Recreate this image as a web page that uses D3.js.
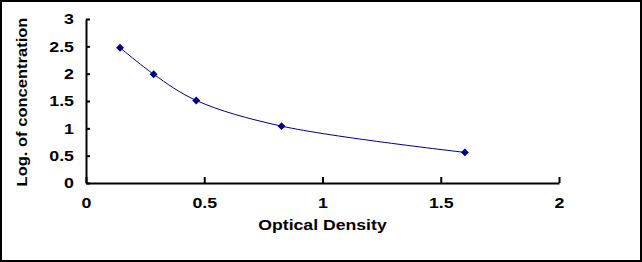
<!DOCTYPE html>
<html>
<head>
<meta charset="utf-8">
<script src="https://cdn.jsdelivr.net/npm/d3@7"></script>
<style>
  body { margin: 0; background: #fff; }
  svg text { font-family: 'Liberation Sans', Arial, sans-serif; font-weight: bold; fill: #000; }
</style>
</head>
<body>
<div id="chart"></div>
<script>
// data
const opticalDensity = [0.144, 0.286, 0.466, 0.827, 1.602];
const logConcentration = [2.475, 1.99, 1.51, 1.04, 0.56];
const xTicks = [0, 0.5, 1, 1.5, 2];
const yTicks = [0, 0.5, 1, 1.5, 2, 2.5, 3];

const W = 642, H = 262;
const margin = { top: 19, right: 83, bottom: 79, left: 86 };
const width = W - margin.left - margin.right;
const height = H - margin.top - margin.bottom;

// the original text renders wider than Liberation Sans, so stretch it
function stretch(sel, k) {
  sel.each(function () {
    const len = this.getComputedTextLength();
    d3.select(this)
      .attr('textLength', len * k)
      .attr('lengthAdjust', 'spacingAndGlyphs');
  });
}

const svg = d3.select('#chart').append('svg')
  .attr('width', W)
  .attr('height', H);

// outer frame
svg.append('rect')
  .attr('x', 1).attr('y', 1)
  .attr('width', W - 2).attr('height', H - 2)
  .attr('fill', '#fff')
  .attr('stroke', '#000')
  .attr('stroke-width', 2);

const chart = svg.append('g')
  .attr('transform', `translate(${margin.left},${margin.top})`);

const x = d3.scaleLinear().domain([0, 2]).range([0, width]);
const y = d3.scaleLinear().domain([0, 3]).range([height, 0]);

// axes, ticks point inward
const xaxis = d3.axisBottom(x)
  .tickValues(xTicks)
  .tickSizeInner(-6)
  .tickSizeOuter(0)
  .tickPadding(15)
  .tickFormat(d3.format('~g'));

const yaxis = d3.axisLeft(y)
  .tickValues(yTicks)
  .tickSizeInner(-4)
  .tickSizeOuter(0)
  .tickPadding(12)
  .tickFormat(d3.format('~g'));

const gx = chart.append('g')
  .attr('transform', `translate(0,${height})`)
  .call(xaxis);

const gy = chart.append('g')
  .call(yaxis);

[gx, gy].forEach(g => {
  g.select('.domain').attr('stroke', '#000').attr('stroke-width', 2);
  g.selectAll('.tick line').attr('stroke', '#000').attr('stroke-width', 2);
  g.selectAll('.tick text')
    .style('font-size', '14px')
    .style('font-family', "'Liberation Sans', Arial, sans-serif")
    .style('font-weight', 'bold')
    .attr('fill', '#000')
    .call(stretch, 1.27);
});
gy.selectAll('.tick text').attr('dy', '0.35em');

// axis titles
chart.append('text')
  .attr('x', width / 2)
  .attr('y', height + 47)
  .attr('text-anchor', 'middle')
  .style('font-size', '14px')
  .text('Optical Density')
  .call(stretch, 1.26);

chart.append('text')
  .attr('transform', `translate(${-59},${height / 2 + 1}) rotate(-90)`)
  .attr('text-anchor', 'middle')
  .style('font-size', '14px')
  .text('Log. of concentration')
  .call(stretch, 1.18);

// curve + markers
const points = opticalDensity.map((d, i) => ({ x: d, y: logConcentration[i] }));

const line = d3.line()
  .x(d => x(d.x))
  .y(d => y(d.y))
  .curve(d3.curveCatmullRom.alpha(0.5));

chart.append('path')
  .datum(points)
  .attr('d', line)
  .attr('fill', 'none')
  .attr('stroke', '#000080')
  .attr('stroke-width', 1);

chart.selectAll('.marker')
  .data(points)
  .enter().append('path')
  .classed('marker', true)
  .attr('d', d3.symbol().type(d3.symbolDiamond2).size(40))
  .attr('transform', d => `translate(${x(d.x)},${y(d.y)})`)
  .attr('fill', '#000080');
</script>
</body>
</html>
